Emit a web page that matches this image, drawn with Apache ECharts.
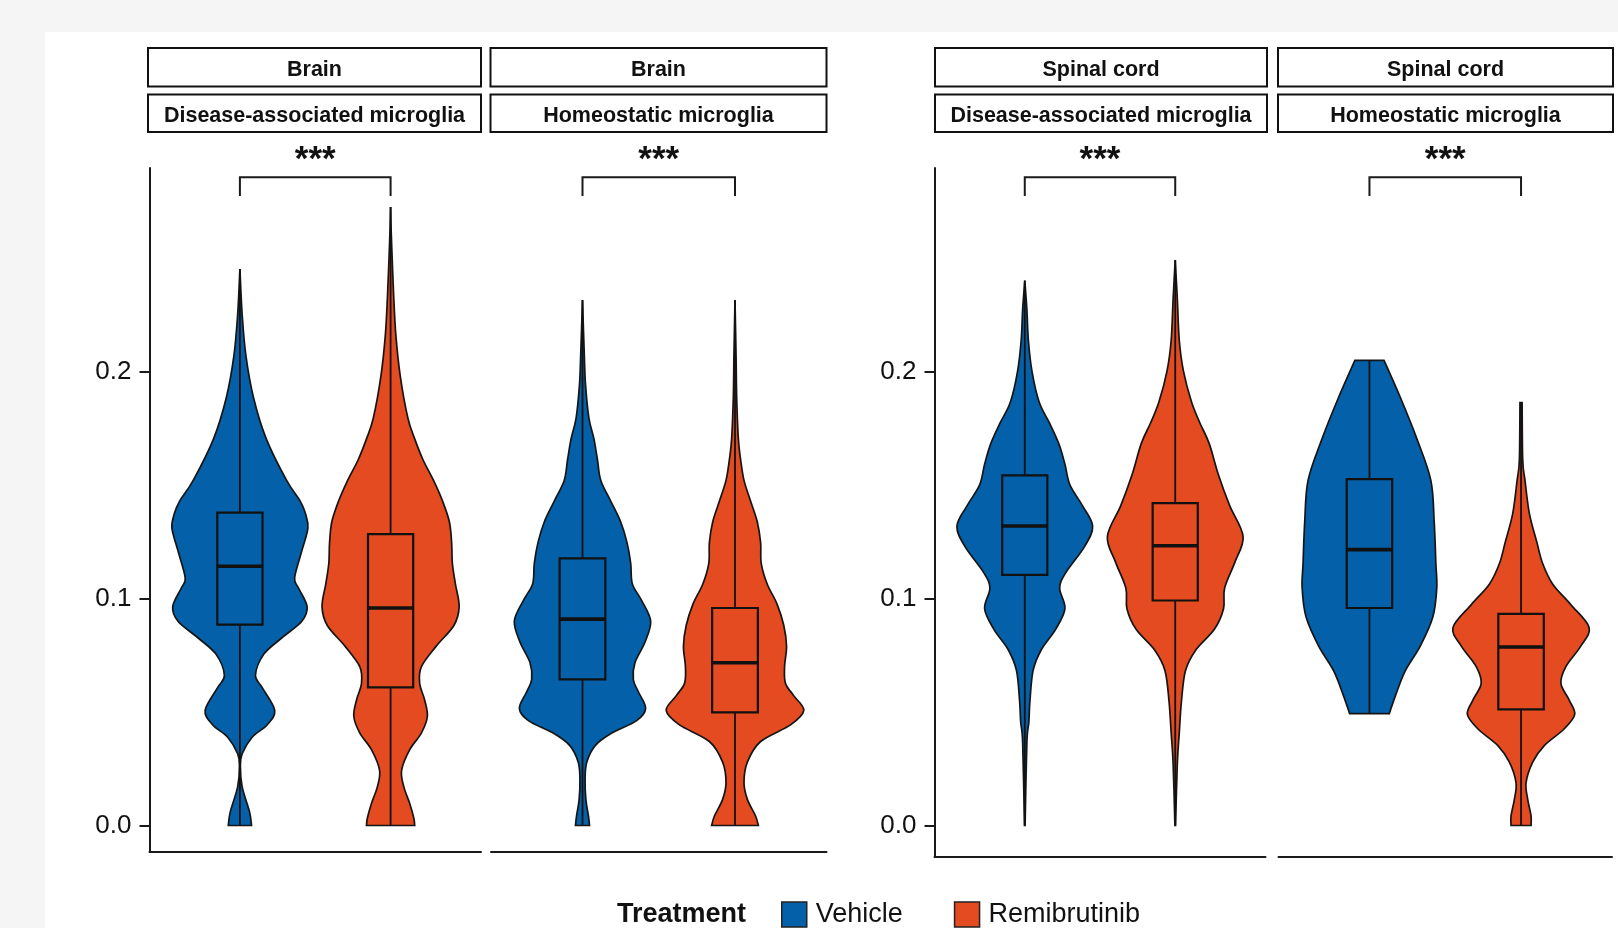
<!DOCTYPE html>
<html><head><meta charset="utf-8">
<script src="https://cdn.jsdelivr.net/npm/echarts@6/dist/echarts.min.js"></script>
<style>html,body{margin:0;padding:0;background:#f5f5f5;} #c{width:1618px;height:928px;}</style>
</head><body><div id="c"></div>
<script>
// ---------- data ----------
const tissues = ['Brain', 'Brain', 'Spinal cord', 'Spinal cord'];
const cellTypes = ['Disease-associated microglia', 'Homeostatic microglia', 'Disease-associated microglia', 'Homeostatic microglia'];
const treatments = ['Vehicle', 'Remibrutinib'];
const treatmentColors = ['#0461A9', '#E54B21'];
const yTicks = [0, 0.1, 0.2];
const sigLabels = ['***', '***', '***', '***'];
// significance bracket: [x1, x2, lower end, upper line]
const bracket = [1, 2, 0.2773, 0.2855];

// violin outlines, top to bottom: [value, half-width in x units]
const violinBrainDamVehicle = [[0.2451,0],[0.2250,0.015],[0.2068,0.04],[0.1885,0.09],[0.1703,0.175],[0.1520,0.31],[0.1429,0.40],[0.1374,0.435],[0.1310,0.451],[0.1210,0.411],[0.1091,0.363],[0.1046,0.389],[0.0964,0.446],[0.0900,0.411],[0.0827,0.279],[0.0754,0.158],[0.0662,0.103],[0.0608,0.147],[0.0507,0.231],[0.0443,0.180],[0.0389,0.081],[0.0316,0.015],[0.0261,0.003],[0.0170,0.015],[0.0060,0.064],[0,0.077]];
const violinBrainDamRemi = [[0.2724,0],[0.2615,0.004],[0.2341,0.02],[0.2159,0.035],[0.1976,0.065],[0.1794,0.115],[0.1703,0.16],[0.1611,0.215],[0.1520,0.285],[0.1429,0.345],[0.1338,0.39],[0.1246,0.405],[0.1155,0.41],[0.1064,0.43],[0.0964,0.455],[0.0881,0.42],[0.0790,0.303],[0.0699,0.204],[0.0626,0.193],[0.0553,0.226],[0.0480,0.244],[0.0407,0.204],[0.0334,0.127],[0.0243,0.073],[0.0170,0.088],[0.0097,0.127],[0.0033,0.154],[0,0.160]];
const violinBrainHomVehicle = [[0.2314,0],[0.2068,0.012],[0.1940,0.02],[0.1794,0.042],[0.1703,0.075],[0.1611,0.098],[0.1520,0.12],[0.1429,0.185],[0.1338,0.25],[0.1246,0.292],[0.1155,0.316],[0.1064,0.327],[0.0991,0.388],[0.0900,0.447],[0.0808,0.410],[0.0717,0.344],[0.0644,0.333],[0.0589,0.366],[0.0516,0.414],[0.0462,0.355],[0.0407,0.192],[0.0352,0.083],[0.0279,0.028],[0.0206,0.017],[0.0115,0.022],[0.0042,0.039],[0,0.046]];
const violinBrainHomRemi = [[0.2314,0],[0.2068,0.007],[0.1885,0.011],[0.1703,0.022],[0.1611,0.037],[0.1520,0.059],[0.1429,0.102],[0.1338,0.146],[0.1246,0.168],[0.1155,0.172],[0.1064,0.211],[0.0973,0.277],[0.0881,0.320],[0.0790,0.338],[0.0699,0.325],[0.0626,0.331],[0.0571,0.386],[0.0507,0.451],[0.0443,0.364],[0.0370,0.168],[0.0279,0.081],[0.0188,0.059],[0.0115,0.081],[0.0042,0.135],[0,0.153]];
const violinCordDamVehicle = [[0.2400,0],[0.2273,0.014],[0.2136,0.024],[0.2000,0.048],[0.1864,0.096],[0.1773,0.164],[0.1682,0.226],[0.1591,0.267],[0.1500,0.300],[0.1409,0.383],[0.1318,0.451],[0.1227,0.396],[0.1114,0.273],[0.1045,0.232],[0.0955,0.267],[0.0864,0.205],[0.0773,0.109],[0.0682,0.055],[0.0545,0.034],[0.0455,0.027],[0.0364,0.014],[0,0.002]];
const violinCordDamRemi = [[0.2491,0],[0.2318,0.014],[0.2136,0.027],[0.2000,0.055],[0.1864,0.109],[0.1773,0.164],[0.1682,0.226],[0.1545,0.287],[0.1409,0.362],[0.1273,0.451],[0.1159,0.396],[0.1045,0.328],[0.0955,0.321],[0.0864,0.260],[0.0773,0.137],[0.0682,0.068],[0.0545,0.041],[0.0409,0.027],[0.0273,0.014],[0,0.002]];
const violinCordHomVehicle = [[0.2049,0.096],[0.1885,0.204],[0.1703,0.313],[0.1520,0.405],[0.1338,0.427],[0.1155,0.438],[0.1046,0.444],[0.0918,0.418],[0.0790,0.335],[0.0681,0.236],[0.0571,0.171],[0.0493,0.131]];
const violinCordHomRemi = [[0.1863,0.007],[0.1611,0.011],[0.1520,0.026],[0.1374,0.055],[0.1246,0.105],[0.1155,0.142],[0.1064,0.208],[0.0973,0.328],[0.0872,0.449],[0.0790,0.394],[0.0699,0.295],[0.0626,0.263],[0.0553,0.317],[0.0489,0.354],[0.0425,0.284],[0.0352,0.153],[0.0279,0.077],[0.0188,0.033],[0.0115,0.044],[0.0042,0.066],[0,0.066]];

// box stats: [min, q1, median, q3, max]
const boxBrainDamVehicle = [0, 0.0885, 0.1142, 0.1378, 0.2451];
const boxBrainDamRemi    = [0, 0.0608, 0.0958, 0.1283, 0.2724];
const boxBrainHomVehicle = [0, 0.0644, 0.0909, 0.1177, 0.2314];
const boxBrainHomRemi    = [0, 0.0498, 0.0717, 0.0958, 0.2314];
const boxCordDamVehicle  = [0, 0.1104, 0.1319, 0.1542, 0.2400];
const boxCordDamRemi     = [0, 0.0991, 0.1232, 0.1420, 0.2491];
const boxCordHomVehicle  = [0.0493, 0.0958, 0.1215, 0.1526, 0.2049];
const boxCordHomRemi     = [0, 0.0511, 0.0786, 0.0932, 0.1863];

const violins = [[violinBrainDamVehicle, violinBrainDamRemi],[violinBrainHomVehicle, violinBrainHomRemi],[violinCordDamVehicle, violinCordDamRemi],[violinCordHomVehicle, violinCordHomRemi]];
const boxes = [[boxBrainDamVehicle, boxBrainDamRemi],[boxBrainHomVehicle, boxBrainHomRemi],[boxCordDamVehicle, boxCordDamRemi],[boxCordHomVehicle, boxCordHomRemi]];

// ---------- layout ----------
const FONT = '"Liberation Sans", Arial, Helvetica, sans-serif';
const INK = '#111';
const grids = [
  {left: 149.5, top: 168, width: 331.5, height: 684},
  {left: 491,   top: 168, width: 335.5, height: 684},
  {left: 934.5, top: 168, width: 331,   height: 689},
  {left: 1278.5,top: 168, width: 333.5, height: 689}
];
const yMins = [-0.01167, -0.01167, -0.01388, -0.01388];
const yMax = 0.2896;
const stripBoxes = [[148, 481], [490.5, 826.5], [935, 1267], [1278, 1613]];

function catmull(pts) {
  let d = '';
  for (let i = 0; i < pts.length - 1; i++) {
    const p0 = pts[i - 1] || pts[i], p1 = pts[i], p2 = pts[i + 1], p3 = pts[i + 2] || pts[i + 1];
    const c1x = p1[0] + (p2[0] - p0[0]) / 6, c1y = p1[1] + (p2[1] - p0[1]) / 6;
    const c2x = p2[0] - (p3[0] - p1[0]) / 6, c2y = p2[1] - (p3[1] - p1[1]) / 6;
    d += ' C ' + c1x + ' ' + c1y + ' ' + c2x + ' ' + c2y + ' ' + p2[0] + ' ' + p2[1];
  }
  return d;
}

function violinRender(profile, color) {
  return function (params, api) {
    const pos = api.value(0);
    const left = profile.map(p => api.coord([pos - p[1], p[0]]));
    const right = profile.slice().reverse().map(p => api.coord([pos + p[1], p[0]]));
    const d = 'M ' + left[0][0] + ' ' + left[0][1] + catmull(left) +
      ' L ' + right[0][0] + ' ' + right[0][1] + catmull(right) + ' Z';
    return {type: 'path', shape: {pathData: d}, style: {fill: color, stroke: '#151515', lineWidth: 1.7}};
  };
}

function boxRender(color) {
  return function (params, api) {
    const pos = api.value(0), hw = 0.15;
    const pMax = api.coord([pos, api.value(5)]), pQ3 = api.coord([pos, api.value(4)]);
    const pMed = api.coord([pos, api.value(3)]), pQ1 = api.coord([pos, api.value(2)]);
    const pMin = api.coord([pos, api.value(1)]);
    const l = api.coord([pos - hw, 0])[0], r = api.coord([pos + hw, 0])[0];
    return {type: 'group', children: [
      {type: 'line', shape: {x1: pMax[0], y1: pMax[1], x2: pQ3[0], y2: pQ3[1]}, style: {stroke: '#111', lineWidth: 1.8}},
      {type: 'line', shape: {x1: pQ1[0], y1: pQ1[1], x2: pMin[0], y2: pMin[1]}, style: {stroke: '#111', lineWidth: 1.8}},
      {type: 'rect', shape: {x: l, y: pQ3[1], width: r - l, height: pQ1[1] - pQ3[1]}, style: {fill: color, stroke: '#111', lineWidth: 2.2}},
      {type: 'line', shape: {x1: l, y1: pMed[1], x2: r, y2: pMed[1]}, style: {stroke: '#111', lineWidth: 3.6}}
    ]};
  };
}

function bracketRender(label) {
  return function (params, api) {
    const a = api.coord([api.value(0), api.value(2)]);
    const b = api.coord([api.value(0), api.value(3)]);
    const c = api.coord([api.value(1), api.value(3)]);
    const d = api.coord([api.value(1), api.value(2)]);
    return {type: 'group', children: [
      {type: 'polyline', shape: {points: [a, b, c, d]}, style: {stroke: '#1a1a1a', lineWidth: 2, fill: null}},
      {type: 'text', x: (b[0] + c[0]) / 2, y: b[1] - 17,
       style: {text: label, font: 'bold 35px ' + FONT, fill: INK, align: 'center', verticalAlign: 'middle', textAlign: 'center', textVerticalAlign: 'middle'}}
    ]};
  };
}

const xAxes = grids.map((g, i) => ({
  type: 'value', gridIndex: i, min: 0.4, max: 2.6, position: 'bottom',
  axisLine: {show: true, onZero: false, lineStyle: {color: '#1a1a1a', width: 2}},
  axisTick: {show: false}, axisLabel: {show: false}, splitLine: {show: false}
}));
const yAxes = grids.map((g, i) => ({
  type: 'value', gridIndex: i, min: yMins[i], max: yMax,
  axisLine: {show: i === 0 || i === 2, onZero: false, lineStyle: {color: '#1a1a1a', width: 2}},
  axisTick: {show: i === 0 || i === 2, length: 10, lineStyle: {color: '#1a1a1a', width: 2}, customValues: yTicks},
  axisLabel: {show: i === 0 || i === 2, customValues: yTicks, margin: 18, fontSize: 26, fontFamily: FONT, color: INK,
              formatter: v => Number(v).toFixed(1)},
  splitLine: {show: false}
}));

const series = [];
violins.forEach((pair, pi) => {
  pair.forEach((profile, ti) => {
    series.push({type: 'custom', name: treatments[ti], xAxisIndex: pi, yAxisIndex: pi,
      itemStyle: {color: treatmentColors[ti]}, data: [[ti + 1]], renderItem: violinRender(profile, treatmentColors[ti]), z: 2, silent: true});
  });
  pair.forEach((p, ti) => {
    series.push({type: 'custom', name: 'box' + pi + ti, xAxisIndex: pi, yAxisIndex: pi,
      data: [[ti + 1].concat(boxes[pi][ti])], renderItem: boxRender(treatmentColors[ti]), z: 3, silent: true});
  });
  series.push({type: 'custom', name: 'sig' + pi, xAxisIndex: pi, yAxisIndex: pi,
    data: [bracket], renderItem: bracketRender(sigLabels[pi]), z: 3, silent: true});
});

const graphics = [{type: 'rect', shape: {x: 45, y: 32, width: 1600, height: 920}, style: {fill: '#fff'}, z: -10, silent: true}];
stripBoxes.forEach((sb, i) => {
  const w = sb[1] - sb[0];
  [[48, 38.5, tissues[i]], [94.5, 37.5, cellTypes[i]]].forEach(row => {
    graphics.push({type: 'rect', shape: {x: sb[0], y: row[0], width: w, height: row[1]}, style: {fill: '#fff', stroke: '#111', lineWidth: 2}, silent: true});
    graphics.push({type: 'text', x: sb[0] + w / 2, y: row[0] + row[1] / 2 + 3,
      style: {text: row[2], font: 'bold 21.5px ' + FONT, fill: INK, align: 'center', verticalAlign: 'middle', textAlign: 'center', textVerticalAlign: 'middle'}, silent: true});
  });
});

const chart = echarts.init(document.getElementById('c'), null, {renderer: 'canvas'});
chart.setOption({
  backgroundColor: '#f5f5f5',
  animation: false,
  title: {text: 'Treatment', left: 617, top: 901, padding: 0,
    textStyle: {fontFamily: FONT, fontWeight: 'bold', fontSize: 27, color: INK}},
  legend: {data: treatments, left: 781, top: 901, padding: 0, itemWidth: 25, itemHeight: 25, itemGap: 51,
    icon: 'rect', selectedMode: false,
    itemStyle: {borderColor: '#222', borderWidth: 1.5},
    textStyle: {fontFamily: FONT, fontSize: 27, color: INK, padding: [3, 0, 0, 4]}},
  graphic: graphics,
  grid: grids,
  xAxis: xAxes,
  yAxis: yAxes,
  series: series
});
</script></body></html>
